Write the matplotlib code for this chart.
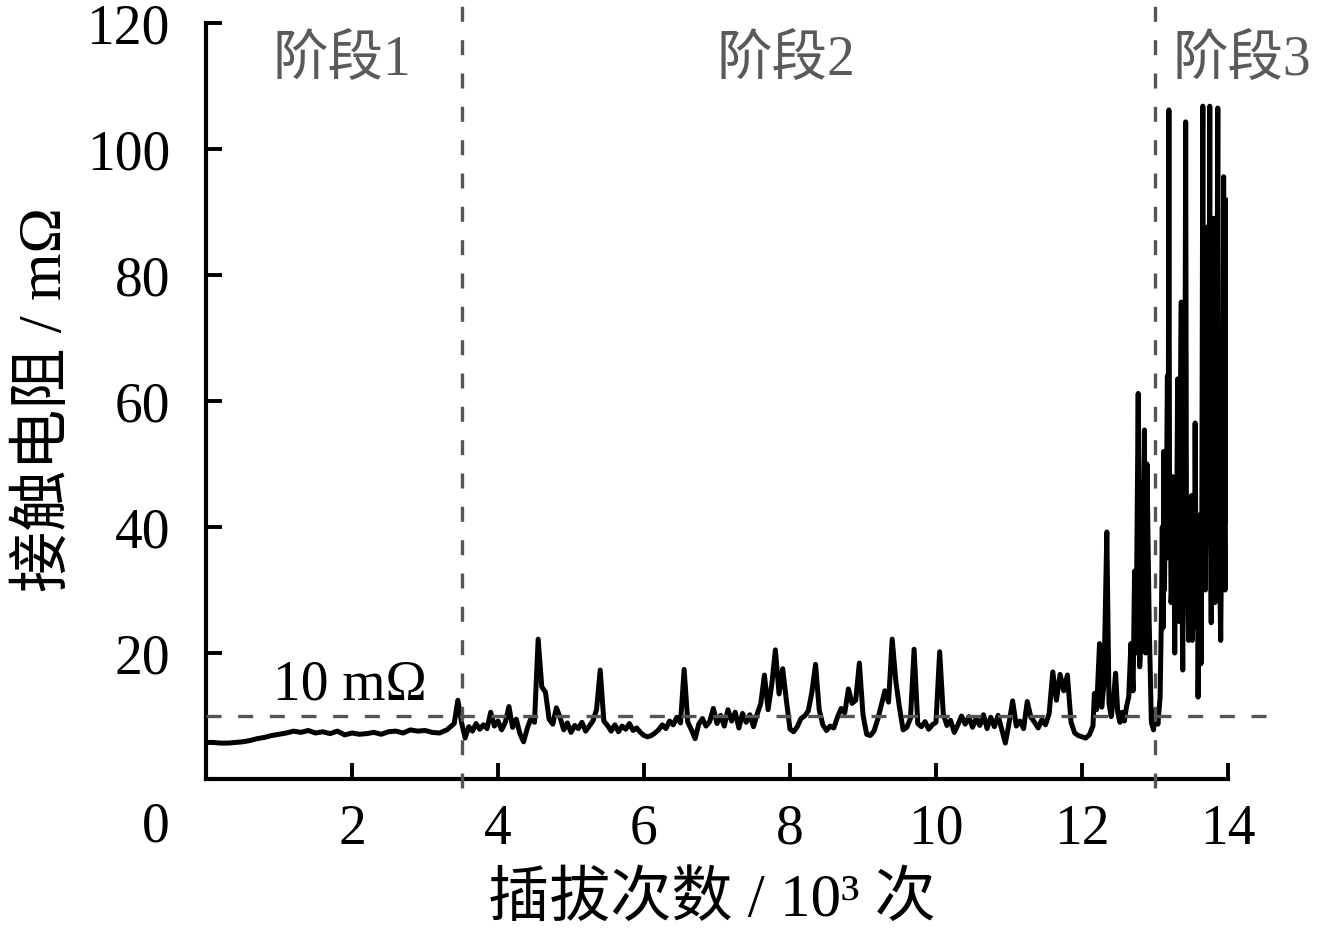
import numpy as np
import matplotlib
matplotlib.use("Agg")
import matplotlib.pyplot as plt

plt.rcParams['font.family'] = ['Liberation Serif', 'Noto Sans CJK SC']

# stage 1: 0 .. 3.4 (10^3 cycles), step 0.1
r_start = [5.8, 5.8, 5.7, 5.7, 5.8, 5.9, 6.1, 6.4, 6.6, 6.9,
           7.1, 7.3, 7.6, 7.4, 7.7, 7.3, 7.5, 7.2, 7.6, 7.0,
           7.3, 7.1, 7.2, 7.4, 7.1, 7.5, 7.6, 7.3, 7.8, 7.6,
           7.7, 7.4, 7.3, 7.8, 8.8]
x_start0, x_start_step = 0.0, 0.1

# stage 2: 3.45 .. 12.15, step 0.05
r_mid = [12.5, 9.0, 6.5, 8.3, 7.6, 8.8, 7.9, 8.6, 8.0, 10.6,
         8.4, 9.2, 7.8, 9.0, 11.5, 8.2, 9.5, 7.2, 5.9, 8.0,
         9.6, 9.0, 22.2, 14.6, 13.8, 9.5, 8.7, 11.3, 9.8, 7.8,
         8.9, 7.4, 8.5, 8.0, 9.0, 7.6, 8.4, 9.2, 11.0, 17.3,
         9.2, 8.5, 7.6, 8.6, 7.5, 8.4, 7.9, 8.8, 7.7, 8.1,
         7.4, 6.9, 6.7, 6.9, 7.3, 7.8, 8.6, 8.0, 9.2, 8.6,
         9.8, 8.9, 17.4, 9.0, 7.8, 6.4, 8.7, 9.6, 8.4, 9.1,
         11.2, 8.8, 10.1, 8.4, 11.0, 9.2, 10.6, 8.1, 10.4, 9.0,
         10.2, 8.3, 10.3, 12.0, 16.5, 11.0, 15.0, 20.5, 13.5, 17.5,
         12.5, 7.9, 7.5, 8.3, 9.6, 10.0, 10.8, 13.8, 18.2, 11.0,
         8.6, 7.7, 8.4, 8.1, 9.8, 11.2, 10.5, 14.3, 12.0, 12.5,
         18.4, 10.2, 7.1, 6.9, 7.6, 9.4, 11.7, 14.0, 12.2, 22.2,
         15.5, 11.3, 7.8, 8.2, 9.6, 20.6, 8.8, 8.3, 9.1, 7.9,
         8.6, 9.0, 20.2, 10.3, 8.5, 9.3, 7.4, 8.6, 10.0, 8.7,
         9.9, 8.2, 9.6, 8.5, 10.2, 8.0, 9.8, 8.3, 10.1, 7.9,
         5.7, 8.8, 12.4, 8.4, 9.2, 8.0, 12.3, 9.8, 9.0, 8.1,
         9.4, 8.6, 10.4, 17.0, 12.5, 16.6, 14.0, 16.5, 9.0, 7.3,
         6.9, 6.7, 6.5, 7.0, 8.4]
x_mid0, x_mid_step = 3.45, 0.05

# end of stage 2 and stage 3: read point by point
x_end = [12.17, 12.20, 12.24, 12.27, 12.30, 12.34, 12.37, 12.40, 12.43, 12.46,
         12.49, 12.52, 12.55, 12.58, 12.61, 12.64, 12.67, 12.70, 12.72, 12.74,
         12.77, 12.79, 12.82, 12.855, 12.87, 12.89, 12.92, 12.95, 12.98, 13.01,
         13.04, 13.07,
         13.09, 13.10, 13.11, 13.12, 13.13, 13.14, 13.15, 13.16, 13.17, 13.18,
         13.19, 13.20, 13.21, 13.22, 13.23, 13.24, 13.25, 13.26, 13.27, 13.28,
         13.29, 13.30, 13.31, 13.32, 13.33, 13.34, 13.345, 13.36, 13.37, 13.38,
         13.39, 13.40, 13.41, 13.42, 13.43, 13.44, 13.45, 13.46, 13.47, 13.48,
         13.49, 13.50, 13.51, 13.52, 13.53, 13.54, 13.55, 13.56, 13.57, 13.58,
         13.59, 13.60, 13.61, 13.62, 13.63, 13.64, 13.655, 13.665, 13.67, 13.68,
         13.69, 13.70, 13.71, 13.72, 13.73, 13.74, 13.75, 13.76, 13.77, 13.78,
         13.79, 13.80, 13.81, 13.82, 13.83, 13.84, 13.85, 13.86, 13.87, 13.88,
         13.89, 13.90, 13.91, 13.92, 13.93, 13.94, 13.95, 13.96, 13.97, 13.98,
         13.99, 14.0]
r_end = [13.6, 11.0, 21.5, 11.4, 15.0, 39.2, 12.0, 9.9, 12.5, 16.8,
         10.5, 9.0, 10.6, 9.2, 11.5, 13.0, 21.5, 14.0, 33.0, 20.0,
         61.2, 17.8, 25.0, 55.4, 20.0, 50.0, 25.0, 9.0, 7.8, 11.0,
         8.7, 13.0,
         28.0, 40.0, 24.0, 52.0, 30.0, 45.0, 35.0, 50.0, 64.0, 40.0,
         106.2, 38.0, 45.0, 28.0, 30.5, 48.0, 33.0, 40.0, 20.0, 36.0,
         30.0, 45.0, 63.5, 28.0, 25.0, 42.0, 56.0, 75.7, 30.0, 17.3,
         38.0, 35.0, 55.0, 104.3, 45.0, 40.0, 30.0, 22.0, 40.0, 28.0,
         32.0, 45.0, 22.0, 30.0, 38.0, 28.0, 56.5, 35.0, 24.0, 40.0,
         13.0, 28.0, 30.0, 42.0, 18.3, 35.0, 106.8, 50.0, 60.0, 35.0,
         30.0, 55.0, 87.6, 40.0, 45.0, 60.0, 106.8, 40.0, 24.8, 50.0,
         38.0, 89.0, 45.0, 28.0, 40.0, 48.0, 70.0, 106.5, 55.0, 40.0,
         30.0, 22.0, 35.0, 50.0, 40.0, 95.6, 45.0, 30.0, 70.0, 50.0,
         91.9, 41.0]

stage_names = ['阶段1', '阶段2', '阶段3']
stage_label_x = [1.86, 7.95, 14.19]
stage_bounds = [3.5, 13.0]
threshold = 10

x_all = np.concatenate([x_start0 + x_start_step * np.arange(len(r_start)),
                        x_mid0 + x_mid_step * np.arange(len(r_mid)),
                        np.array(x_end)])
r_all = np.concatenate([r_start, r_mid, r_end])

W, H = 1318, 941
fig = plt.figure(figsize=(W / 100, H / 100), dpi=100)
ax = fig.add_axes([206 / W, 1 - 779 / H, 1022 / W, 756 / H])

ax.plot(x_all, r_all, color='black', lw=3.6, zorder=3)

dash_col = '#555555'
ax.plot([0, 14.7], [threshold, threshold], color=dash_col, lw=2.4,
        dashes=(4.5, 5.0), clip_on=False, zorder=4)
for xb in stage_bounds:
    ax.plot([xb, xb], [-1.4, 123.7], color=dash_col, lw=2.4,
            dashes=(4.5, 5.5), clip_on=False, zorder=4)

for name, xs in zip(stage_names, stage_label_x):
    ax.text(xs, 114, name, ha='center', va='center', fontsize=40,
            color='#5a5a5a')
ax.text(1.97, 14.9, '10 mΩ', ha='center', va='center', fontsize=40,
        color='black')

ax.set_xlim(0, 14)
ax.set_ylim(0, 120)
ax.set_xticks([2, 4, 6, 8, 10, 12, 14])
ax.set_yticks([0, 20, 40, 60, 80, 100, 120])
ax.set_yticklabels(['', '20', '40', '60', '80', '100', '120'])
ax.tick_params(direction='in', length=11.5, width=2.8, labelsize=40)
ax.tick_params(axis='x', pad=18)
ax.tick_params(axis='y', pad=26)
for s in ['top', 'right']:
    ax.spines[s].set_visible(False)
for s in ['left', 'bottom']:
    ax.spines[s].set_linewidth(3)

fig.text(170 / W, 1 - 828 / H, '0', ha='right', va='center', fontsize=40)
fig.text(712 / W, 1 - 900 / H, '插拔次数 / 10³ 次', ha='center', va='center',
         fontsize=44)
fig.text(45 / W, 1 - 400 / H, '接触电阻 / mΩ', ha='center', va='center',
         rotation=90, fontsize=44)

fig.savefig('out.png', dpi=100)
